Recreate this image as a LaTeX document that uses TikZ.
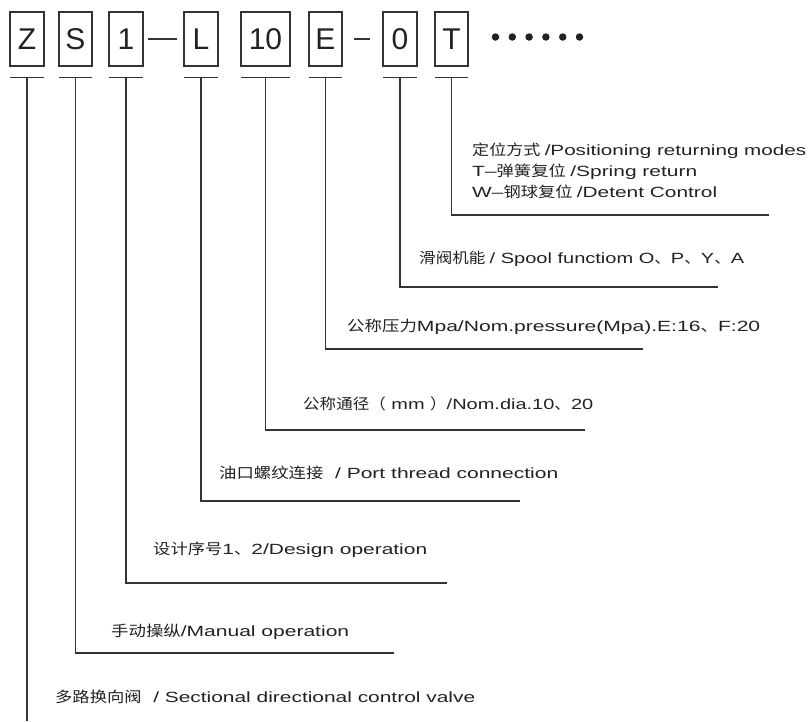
\documentclass[tikz,border=0pt]{standalone}
\usepackage{fontspec}
\usepackage{graphicx}
\setmainfont{Liberation Sans}
\newfontfamily\laf[FakeStretch=1.33]{Liberation Sans}
\newfontfamily\cjf[FakeStretch=1.1]{Noto Sans CJK SC}
\usetikzlibrary{calc}
\definecolor{ink}{HTML}{333333}
\definecolor{txt}{HTML}{222222}
\newcommand\fitw[2]{\resizebox{#1pt}{\height}{#2}}
\tikzset{
  box/.style={draw=ink, line width=1.1pt, minimum height=54pt, inner sep=0pt, font=\fontsize{30}{30}\selectfont, text=txt},
  lab/.style={anchor=west, inner sep=0pt, font=\fontsize{14.8}{21}\selectfont, text=txt, align=left},
  wire/.style={draw=ink, line width=1.1pt},
  dot/.style={circle, fill=txt, inner sep=0pt, minimum size=7.5pt}
}
\begin{document}
\begin{tikzpicture}[x=1pt,y=-1pt]
\useasboundingbox (0,0) rectangle (809,721);
% code boxes
\node[box, minimum width=34pt] (bZ) at (27,39) {Z};
\node[box, minimum width=33pt] (bS) at (75.5,39) {S};
\node[box, minimum width=34pt] (b1) at (126,39) {1};
\node[box, minimum width=34pt] (bL) at (201,39) {L};
\node[box, minimum width=49pt] (b10) at (265.5,39) {10};
\node[box, minimum width=33pt] (bE) at (325.5,39) {E};
\node[box, minimum width=34pt] (b0) at (400,39) {0};
\node[box, minimum width=33pt] (bT) at (451.5,39) {T};
% dashes between boxes
\draw[wire, shorten <=4pt, shorten >=6pt] (b1) -- (bL);
\draw[wire, shorten <=11pt, shorten >=12pt] (bE) -- (b0);
% dots
\foreach \i in {0,...,5} \node[dot] (d\i) at (495.5+16.8*\i,37) {};
% tick bars and leaders
\foreach \n/\w in {Z/17,S/16.5,1/17,L/17,10/24.5,E/16.5,0/17,T/16.5}{
  \coordinate (t\n) at ($(b\n.south)+(0,11)$);
  \draw[wire] ([xshift=-\w pt]t\n) -- ([xshift=\w pt]t\n);
}
% right ends of leaders
\coordinate (eT) at (769,215);
\coordinate (e0) at (718,287);
\coordinate (eE) at (643,349);
\coordinate (e10) at (585,430);
\coordinate (eL) at (520,501);
\coordinate (e1) at (447,583);
\coordinate (eS) at (394,653);
\coordinate (eZ) at (27,721);
\foreach \n in {T,0,E,10,L,1,S}{ \draw[wire] (t\n) |- (e\n); }
\draw[wire] (tZ) -- (eZ);
% labels
\node[lab] (lT1) at (472,151) {\fitw{334}{{\cjf 定位方式} {\laf /Positioning returning modes}}};
\node[lab] (lT2) at (472,172) {\fitw{225}{{\laf T–}{\cjf 弹簧复位} {\laf /Spring return}}};
\node[lab] (lT3) at (472,192) {\fitw{245}{{\laf W–}{\cjf 钢球复位} {\laf /Detent Control}}};
\node[lab] (l0) at (419,259) {\fitw{325}{{\cjf 滑阀机能} {\laf / Spool functiom O}{\cjf 、}{\laf P}{\cjf 、}{\laf Y}{\cjf 、}{\laf A}}};
\node[lab] (lE) at (347,327) {\fitw{413}{{\cjf 公称压力}{\laf Mpa/Nom.pressure(Mpa).E:16}{\cjf 、}{\laf F:20}}};
\node[lab] (l10) at (303,404) {\fitw{290}{{\cjf 公称通径（}{\laf\ mm\ }{\cjf ）}{\laf /Nom.dia.10}{\cjf 、}{\laf 20}}};
\node[lab] (lL) at (219,473) {\fitw{339}{{\cjf 油口螺纹连接}{\laf \ \ / Port thread connection}}};
\node[lab] (l1) at (153,550) {\fitw{274}{{\cjf 设计序号}{\laf 1}{\cjf 、}{\laf 2/Design operation}}};
\node[lab] (lS) at (111,632) {\fitw{238}{{\cjf 手动操纵}{\laf /Manual operation}}};
\node[lab] (lZ) at (55,697) {\fitw{420}{{\cjf 多路换向阀}{\laf \ \ / Sectional directional control valve}}};
\end{tikzpicture}
\end{document}
